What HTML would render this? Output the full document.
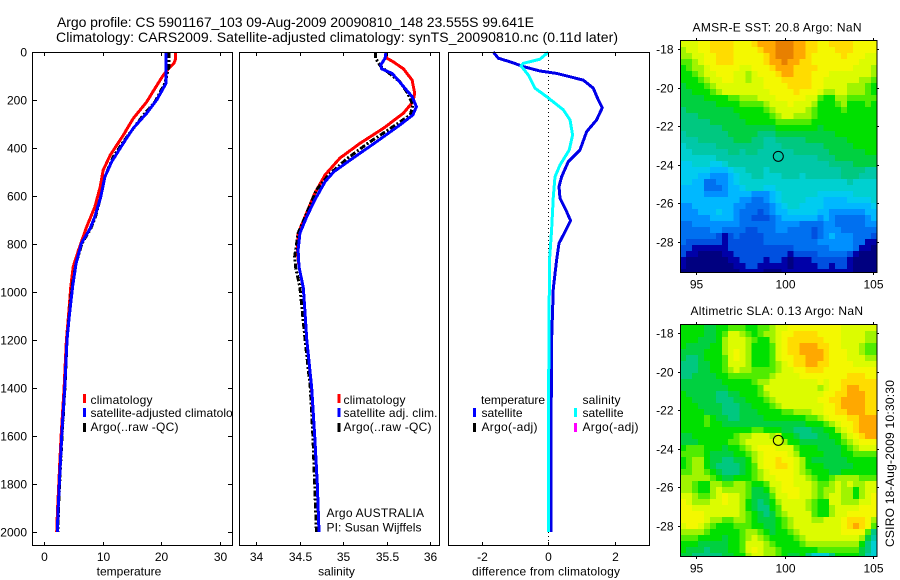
<!DOCTYPE html>
<html lang="en">
<head>
<meta charset="utf-8">
<title>Argo profile</title>
<style>
html,body{margin:0;padding:0;background:#fff;}
svg{display:block;}
text{font-family:"Liberation Sans",sans-serif;font-size:12px;fill:#000;}
.t{font-size:14px;}
</style>
</head>
<body>
<svg id="fig" xmlns="http://www.w3.org/2000/svg" width="900" height="580" viewBox="0 0 900 580">
<defs>
<clipPath id="clipSst"><rect x="680" y="41" width="197" height="232"/></clipPath>
<clipPath id="clipSla"><rect x="680" y="325" width="197" height="232"/></clipPath>
</defs>
<rect x="0" y="0" width="900" height="580" fill="#fff"/>
<text class="t" x="57" y="27" textLength="477">Argo profile: CS 5901167_103 09-Aug-2009 20090810_148 23.555S 99.641E</text>
<text class="t" x="56" y="42" textLength="562">Climatology: CARS2009. Satellite-adjusted climatology: synTS_20090810.nc (0.11d later)</text>

<g id="panelT">
  <g id="marksT"></g>
  <g>
    <rect x="83" y="394" width="3" height="9" fill="#f00"/>
    <text x="90.5" y="404" textLength="62">climatology</text>
    <rect x="83" y="408" width="3" height="9" fill="#00f"/>
    <text x="90.5" y="417" textLength="155">satellite-adjusted climatology</text>
    <rect x="83" y="423" width="3" height="9" fill="#000"/>
    <text x="90.5" y="431" textLength="88">Argo(..raw -QC)</text>
  </g>
</g>
<rect x="233" y="52" width="6" height="494" fill="#fff"/>
<g id="panelS">
  <rect x="239" y="52" width="200" height="493" fill="#fff"/>
  <g id="marksS"></g>
  <g>
    <rect x="337.5" y="394" width="3" height="9" fill="#f00"/>
    <text x="343.5" y="404" textLength="62">climatology</text>
    <rect x="337.5" y="408" width="3" height="9" fill="#00f"/>
    <text x="343.5" y="417" textLength="94">satellite adj. clim.</text>
    <rect x="337.5" y="423" width="3" height="9" fill="#000"/>
    <text x="343.5" y="431" textLength="88">Argo(..raw -QC)</text>
  </g>
  <text x="326.5" y="517" textLength="97.5">Argo AUSTRALIA</text>
  <text x="326.5" y="531.5" textLength="95">PI: Susan Wijffels</text>
</g>
<g id="panelD">
  <g id="marksD"></g>
  <g>
    <text x="481" y="404" textLength="64">temperature</text>
    <rect x="473" y="408" width="3" height="9" fill="#00f"/>
    <text x="481.5" y="417" textLength="41">satellite</text>
    <rect x="473" y="423" width="3" height="9" fill="#000"/>
    <text x="481.5" y="431" textLength="56">Argo(-adj)</text>
    <text x="582.5" y="404" textLength="38">salinity</text>
    <rect x="574" y="408" width="3" height="9" fill="#0ff"/>
    <text x="582.5" y="417" textLength="41">satellite</text>
    <rect x="574" y="423" width="3" height="9" fill="#f0f"/>
    <text x="582.5" y="431" textLength="56">Argo(-adj)</text>
  </g>
</g>
<text x="129" y="575.5" text-anchor="middle">temperature</text>
<text x="336.5" y="575.5" text-anchor="middle">salinity</text>
<text x="546" y="575.5" text-anchor="middle" textLength="148">difference from climatology</text>

<g id="mapSst" clip-path="url(#clipSst)"></g>
<g id="mapSla" clip-path="url(#clipSla)"></g>
<text x="692.5" y="31.5" textLength="169">AMSR-E SST: 20.8 Argo: NaN</text>
<text x="690.5" y="315" textLength="172.5">Altimetric SLA: 0.13 Argo: NaN</text>
<text transform="translate(894,547) rotate(-90)" textLength="167">CSIRO 18-Aug-2009 10:30:30</text>
<g id="axes"></g>
</svg>
<script>
/* ---- profile data ---- */
const depthTicks = [0,200,400,600,800,1000,1200,1400,1600,1800,2000];
const tempTicks = [0,10,20,30];
const salTicks = [34,34.5,35,35.5,36];
const salTickLabels = ['34','34.5','35','35.5','36'];
const diffTicks = [-2,0,2];
const lonTicks = [95,100,105];
const latTicks = [-18,-20,-22,-24,-26,-28];

const tempClimDepth = [0,30,48,70,97,152,208,277,347,430,492,562,645,728,826,895,978,1100,1200,1400,1500,1600,1700,1800,1900,2000];
const tempClimValue = [22.4,22.4,22.1,21.2,20.3,18.9,17.5,15.2,13.5,11.3,10.1,9.6,8.7,7.3,5.9,5.0,4.6,4.2,3.85,3.45,3.2,2.95,2.75,2.55,2.35,2.2];
const tempSatDepth = [0,130,200,255,318,381,457,520,603,686,735,797,880,978,1100,1200,1400,1500,1600,1700,1800,1900,2000];
const tempSatValue = [20.8,20.8,19.2,17.5,15.2,13.5,11.55,10.4,9.7,8.7,7.9,6.4,5.5,4.9,4.35,3.95,3.56,3.3,3.05,2.85,2.65,2.45,2.3];
const tempArgoDepth = [0,60,130,208,270,375,437,520,603,686,735,797,880,978,1100,1200,1400,1500,1600,1700,1800,1900,2000];
const tempArgoValue = [21.3,21.3,20.6,18.9,16.7,13.5,11.8,10.4,9.7,8.8,8.0,6.5,5.5,4.8,4.3,3.95,3.6,3.35,3.1,2.9,2.7,2.5,2.4];

const salClimDepth = [0,26,40,70,117,172,207,255,318,381,442,512,589,686,755,825,895,985,1200,1400,1600,1800,2000];
const salClimValue = [35.49,35.5,35.57,35.69,35.79,35.82,35.8,35.69,35.46,35.19,34.96,34.79,34.67,34.56,34.48,34.47,34.49,34.54,34.58,34.635,34.67,34.7,34.72];
const salSatDepth = [0,26,54,70,89,117,152,186,228,262,304,374,450,499,540,617,686,755,825,895,985,1200,1400,1600,1800,2000];
const salSatValue = [35.49,35.48,35.43,35.44,35.56,35.63,35.71,35.79,35.84,35.8,35.65,35.38,35.08,34.89,34.79,34.67,34.58,34.5,34.48,34.49,34.54,34.58,34.636,34.67,34.7,34.72];
const salArgoDepth = [0,26,60,124,172,220,262,304,381,445,512,575,670,755,853,895,980,1200,1400,1600,1800,2000];
const salArgoValue = [35.37,35.37,35.43,35.65,35.74,35.8,35.77,35.6,35.28,35.04,34.83,34.69,34.58,34.48,34.44,34.45,34.5,34.56,34.62,34.65,34.67,34.69];

const diffTempDepth = [0,26,43,61,79,89,117,151,200,232,283,332,408,457,520,561,609,659,703,749,797,867,985,1200,1400,1700,2000];
const diffTempValue = [-1.65,-1.5,-1.1,-0.75,-0.25,0.25,1.05,1.35,1.5,1.62,1.45,1.15,0.95,0.6,0.4,0.32,0.35,0.53,0.67,0.5,0.32,0.25,0.15,0.1,0.09,0.08,0.08];
const diffSalDepth = [0,30,47,58,96,151,186,241,283,346,408,471,520,603,741,880,985,1200,1400,1700,2000];
const diffSalValue = [0,-0.25,-0.75,-0.82,-0.6,-0.4,-0.05,0.45,0.65,0.73,0.63,0.35,0.2,0.15,0.1,0.03,0.03,0.02,0.01,0,0];

const argoLon = 99.641;
const argoLat = -23.555;

/* ---- map colour levels, north to south ---- */
const sstGrid = [
[14,14,14,15,15,16,16,16,16,15,15,15,16,17,17,17,18,18,18,17,17,16,16,15,15,16,16,16,16,15,15,15,15],
[13,14,14,15,15,16,16,16,16,15,15,15,15,16,17,17,18,18,18,17,17,16,16,15,15,15,16,16,16,15,15,15,15],
[13,13,14,14,15,15,16,16,16,15,15,15,15,15,16,17,18,18,18,17,17,16,15,15,15,15,15,16,15,15,15,14,14],
[12,12,13,14,15,15,16,16,16,15,15,15,15,15,16,17,17,18,17,17,16,16,15,15,15,15,15,15,15,15,14,14,14],
[11,12,13,13,14,15,15,15,15,15,14,14,15,15,15,16,17,17,17,16,16,16,16,15,15,15,15,15,15,14,14,14,13],
[11,11,12,13,14,14,15,15,15,14,14,13,14,15,15,15,16,17,17,16,16,16,15,15,15,14,14,14,14,14,14,14,13],
[11,11,11,12,13,14,14,15,15,14,14,13,14,14,15,15,15,16,16,16,16,16,15,15,14,14,14,14,14,14,13,13,12],
[10,11,11,11,12,13,14,14,14,14,14,14,14,14,15,15,15,15,16,16,16,16,15,15,14,14,14,14,13,13,13,12,11],
[10,10,11,11,11,12,13,14,14,14,14,14,14,14,14,15,15,15,15,16,15,15,15,14,13,13,14,14,13,13,13,12,11],
[10,10,10,10,11,11,11,11,12,12,13,13,13,14,14,14,15,15,15,15,15,14,14,12,11,11,13,13,12,12,12,12,12],
[10,10,10,10,10,10,11,11,11,11,12,12,12,12,13,14,14,14,15,14,14,14,13,11,11,11,12,13,11,11,11,12,11],
[9,10,10,10,10,10,10,10,10,11,11,11,11,11,12,13,14,14,14,14,14,13,12,11,11,11,11,12,11,11,11,11,11],
[9,9,9,10,10,10,10,10,10,10,11,11,11,11,11,12,13,14,14,13,13,13,12,11,11,11,11,11,11,11,11,11,11],
[9,9,9,9,9,10,10,10,10,10,10,11,11,11,11,11,12,12,12,12,12,12,11,11,11,11,11,11,11,11,11,11,11],
[9,9,9,9,9,9,9,10,10,10,10,10,10,10,10,10,11,11,11,11,11,11,11,10,11,11,11,11,11,11,11,11,11],
[8,9,9,9,9,9,9,9,10,10,10,10,10,9,9,9,10,10,10,10,10,10,10,10,10,10,11,11,11,11,11,11,11],
[8,8,8,9,9,9,9,9,9,10,10,10,9,9,8,8,9,9,9,9,9,10,10,10,10,10,10,10,11,11,11,11,11],
[7,8,8,8,8,8,9,9,9,9,9,9,9,9,8,8,8,9,9,9,9,9,9,9,10,10,10,10,10,11,11,11,11],
[7,7,8,8,8,8,8,8,9,9,8,9,9,8,8,8,8,8,8,9,9,9,9,9,9,10,10,10,10,10,10,11,11],
[7,7,7,7,7,7,8,8,8,8,8,8,8,8,8,8,8,8,8,8,8,8,8,9,9,9,10,10,10,10,10,10,10],
[6,6,7,7,7,6,6,7,8,8,8,8,8,8,8,8,8,8,8,8,8,8,8,8,8,9,9,9,9,10,10,10,10],
[6,6,6,6,6,5,5,5,6,7,7,8,8,8,7,8,8,8,8,8,8,8,8,8,8,8,8,9,9,9,9,8,8],
[6,6,6,5,5,4,4,4,5,6,7,7,8,8,7,7,7,8,8,8,7,8,8,8,8,8,8,9,9,9,8,8,8],
[6,6,5,5,3,3,4,4,5,6,7,7,7,7,7,7,7,7,7,7,7,7,7,7,7,7,7,7,8,7,7,7,7],
[5,5,5,5,3,3,3,4,5,5,6,7,7,7,6,6,7,7,7,7,7,7,7,7,7,7,7,7,7,7,7,7,7],
[5,5,5,5,4,4,4,4,5,5,5,5,4,4,4,5,6,7,7,7,7,7,7,6,6,6,6,6,6,7,7,7,7],
[5,5,5,5,5,5,5,5,5,5,4,4,3,3,4,5,6,7,7,7,7,6,6,6,5,5,5,5,6,6,6,6,7],
[4,4,5,5,5,5,5,5,5,4,4,3,3,3,3,4,5,6,7,7,6,6,6,6,5,5,5,5,5,5,5,5,6],
[4,4,4,5,5,5,6,5,5,4,3,3,3,2,3,4,5,5,6,6,6,6,6,5,5,4,4,4,4,4,4,5,5],
[4,4,4,4,4,5,5,5,5,4,3,3,2,2,2,3,4,5,5,5,5,5,5,4,5,4,3,3,3,3,3,4,5],
[3,3,4,4,4,4,4,4,4,4,3,3,3,3,3,3,4,4,4,4,3,3,3,3,4,4,3,3,3,3,3,4,4],
[3,3,3,3,3,4,4,3,3,3,3,2,2,3,3,3,4,4,3,3,3,3,2,3,4,4,4,3,3,3,3,3,3],
[3,3,3,3,3,3,2,1,2,3,2,2,2,2,3,3,3,3,3,3,3,3,2,3,4,5,4,4,4,3,3,3,2],
[3,2,2,2,2,2,2,1,2,2,2,2,2,2,3,3,3,3,3,3,3,3,3,4,4,4,4,4,4,3,3,1,1],
[2,2,1,1,1,1,1,1,2,2,2,2,2,2,2,2,2,2,2,3,3,3,3,3,3,4,4,4,4,3,1,1,0],
[2,1,1,0,0,0,0,1,1,2,2,2,2,2,2,2,2,2,1,2,2,2,2,3,3,3,3,3,2,1,0,0,0],
[1,0,0,0,0,0,0,0,1,1,2,2,2,2,1,2,2,1,0,1,1,1,2,2,2,2,2,2,1,0,0,0,0],
[1,0,0,0,0,0,0,0,0,1,1,2,2,1,1,1,1,1,0,1,1,1,1,2,2,1,2,2,1,0,0,0,0],
[0,0,0,0,0,0,0,0,0,0,1,1,1,1,0,0,0,1,1,1,1,1,1,1,1,1,1,1,1,0,0,0,0]
];
const slaGrid = [
[11,11,11,11,10,10,11,11,12,12,12,11,11,12,12,13,14,14,15,15,15,15,15,15,15,15,15,14,14,14,14,14,14],
[11,11,11,11,10,10,11,12,14,14,13,12,11,12,13,13,14,15,15,16,16,16,16,15,15,15,15,14,14,14,14,13,13],
[11,11,11,10,10,10,11,13,14,14,14,13,12,11,11,13,14,15,16,16,16,16,16,16,15,15,15,14,14,14,14,13,13],
[11,10,10,10,10,11,11,13,14,14,14,13,11,11,11,12,14,15,16,16,17,17,17,16,16,15,15,14,14,14,13,12,12],
[10,10,10,10,11,11,11,13,14,15,14,13,11,11,11,12,14,15,16,16,17,17,17,17,16,15,15,15,14,14,13,12,12],
[10,9,9,10,11,11,11,12,14,15,14,13,11,11,11,12,14,15,15,16,16,17,17,17,16,15,15,15,14,14,14,13,13],
[9,9,9,10,10,11,11,12,14,14,14,13,11,11,11,12,13,14,15,16,16,17,17,16,16,15,15,15,15,14,14,14,14],
[9,9,9,10,10,11,11,12,13,14,13,13,12,12,12,12,13,14,14,15,15,16,16,16,15,15,15,15,15,15,15,15,15],
[9,9,10,10,10,10,11,11,12,12,12,12,12,12,12,13,14,14,14,14,15,15,15,15,15,15,15,15,16,16,16,15,15],
[10,10,10,10,10,10,10,11,11,11,11,11,12,13,13,14,14,14,14,14,14,14,14,15,14,15,15,16,16,16,16,16,16],
[10,10,10,10,10,10,10,10,11,11,11,11,11,12,14,14,14,14,14,14,14,14,14,13,14,15,15,16,17,17,16,16,16],
[11,10,10,10,10,10,9,9,10,10,11,11,11,12,13,14,14,14,14,14,14,14,14,14,15,15,16,16,17,17,17,16,16],
[11,11,10,10,10,10,9,9,9,10,10,11,11,11,12,13,14,14,14,14,14,14,14,15,15,16,16,17,17,17,17,16,16],
[11,11,11,10,10,10,10,9,9,9,10,10,11,11,11,12,13,14,14,14,14,14,14,14,15,15,16,17,17,17,17,16,16],
[11,11,11,11,10,10,10,9,9,9,10,10,10,11,11,11,11,12,12,13,13,13,14,14,15,15,16,16,17,17,17,16,16],
[11,11,11,11,12,11,10,10,9,9,10,10,10,10,11,11,11,11,11,11,11,12,12,13,14,15,15,15,16,16,17,17,17],
[11,11,11,11,12,11,11,10,10,10,10,10,10,10,10,10,10,10,10,10,10,11,11,11,12,13,14,15,15,16,17,17,17],
[11,11,11,11,11,11,11,11,11,11,11,11,12,12,11,11,11,10,10,9,9,9,10,10,11,11,13,14,15,16,17,17,17],
[10,10,11,11,11,11,11,11,11,12,13,13,14,14,14,13,14,11,11,10,9,9,9,10,10,11,11,13,14,15,16,17,17],
[10,10,10,11,11,11,11,11,12,12,13,14,14,14,14,14,14,13,11,11,10,10,10,10,10,10,11,12,13,14,15,15,15],
[11,12,12,12,11,11,11,10,11,11,12,13,14,15,15,15,14,14,14,12,11,11,11,10,10,10,10,11,12,13,14,14,14],
[12,12,12,12,11,10,10,10,10,11,11,12,13,14,15,15,15,15,14,13,11,11,11,11,10,10,10,11,11,12,12,12,12],
[11,12,13,13,11,10,10,9,9,10,10,11,13,14,15,15,16,15,15,14,13,11,10,10,10,10,10,10,11,11,11,11,11],
[11,12,13,13,11,10,9,9,9,9,10,11,12,14,15,15,16,16,15,14,13,11,11,11,10,10,10,10,10,11,11,11,11],
[12,12,13,13,12,11,10,9,9,9,10,11,12,13,14,15,15,15,15,14,13,12,11,11,11,10,10,11,11,11,11,11,11],
[13,13,13,13,13,12,11,10,10,11,11,11,12,13,14,14,15,15,15,14,14,13,12,11,11,12,13,13,13,13,12,12,12],
[13,13,12,11,11,13,13,12,12,13,13,12,11,11,12,14,14,15,15,14,14,14,13,12,12,13,14,13,14,13,13,14,14],
[13,13,12,11,11,13,14,13,13,13,13,12,10,10,11,13,14,15,15,15,14,14,13,12,13,13,14,13,13,11,13,14,14],
[14,14,13,12,12,13,14,15,14,14,13,12,10,10,10,12,14,14,15,15,14,14,13,12,13,14,14,13,13,11,13,14,15],
[15,14,13,13,13,14,14,15,14,14,13,11,10,9,10,11,13,14,14,14,14,13,12,11,11,14,14,13,13,13,14,14,15],
[15,15,14,14,14,14,14,14,14,14,13,11,10,9,9,11,12,14,14,14,14,13,12,11,11,13,14,14,14,14,15,15,15],
[15,15,15,15,14,14,14,14,14,14,13,12,11,10,9,10,12,13,14,14,14,14,12,11,11,13,14,14,15,15,15,15,15],
[15,15,15,15,14,13,13,12,12,13,13,12,11,10,10,10,11,12,13,14,14,14,13,13,14,14,14,15,16,16,16,15,13],
[14,15,15,14,13,12,11,11,11,12,12,12,11,11,10,10,11,12,13,14,14,14,14,14,14,14,14,15,16,17,16,15,12],
[13,13,13,13,12,11,11,11,11,11,12,13,13,12,11,10,11,11,12,13,14,14,14,14,14,14,14,15,15,15,15,12,9],
[12,12,12,11,11,11,11,10,11,11,12,13,14,13,12,11,11,11,11,12,13,14,14,14,14,14,14,14,14,14,13,10,8],
[11,11,11,10,10,10,10,10,11,11,12,14,14,14,13,12,11,11,11,11,12,13,13,13,13,13,13,13,13,13,11,9,7],
[11,10,10,10,9,10,10,10,11,11,12,14,15,14,13,13,12,11,11,11,11,11,11,12,12,12,12,12,12,12,10,9,7],
[10,10,9,9,9,9,9,10,10,11,11,13,14,14,13,13,12,11,10,10,11,9,7,7,7,9,11,11,11,11,10,8,7]
];
const levelColors = ['#000080','#0000a8','#0050e0','#0070f0','#0090ff','#00b8ff','#00ccf0','#00d0d0','#00c8a8','#00c880','#00d040','#00e000','#50ec00','#a0f400','#dcfc00','#f4f800','#ffdc00','#ffa800','#e88000'];

const NS = 'http://www.w3.org/2000/svg';
const PLOT_TOP = 52, PLOT_BOTTOM = 545;
function yDepth(d){ return 52 + d * 0.24; }
function xTemp(v){ return 43.76 + v * 5.882; }
function xSal(v){ return 239 + (v - 33.8) * 86.96; }
function xDiff(v){ return 548.3 + v * 33.33; }
function xLon(v){ return 680 + (v - 94.1) * 17.74; }
function ySst(v){ return 49.3 + (-18 - v) * 19.27; }
function ySla(v){ return 333.3 + (-18 - v) * 19.27; }

function node(tag, parent){
  const el = document.createElementNS(NS, tag);
  parent.appendChild(el);
  return el;
}
function line(parent, x1, y1, x2, y2, name){
  const el = node('line', parent);
  el.setAttribute('x1', x1);
  el.setAttribute('y1', y1);
  el.setAttribute('x2', x2);
  el.setAttribute('y2', y2);
  el.setAttribute('stroke', '#000');
  el.setAttribute('stroke-width', 1);
  el.setAttribute('shape-rendering', 'crispEdges');
  
  
  return el;
}
function label(parent, x, y, str, anchor, name){
  const el = node('text', parent);
  el.setAttribute('x', x);
  el.setAttribute('y', y);
  el.setAttribute('text-anchor', anchor);
  el.textContent = str;
  
  
  return el;
}
function profile(parent, depths, values, xFn, color, width, dash, name){
  const el = node('polyline', parent);
  el.setAttribute('points', depths.map((d, i) => xFn(values[i]).toFixed(1) + ',' + yDepth(d).toFixed(1)).join(' '));
  el.setAttribute('fill', 'none');
  el.setAttribute('stroke', color);
  el.setAttribute('stroke-width', width);
  el.setAttribute('stroke-linejoin', 'round');
  el.setAttribute('shape-rendering', 'crispEdges');
  if (dash) el.setAttribute('stroke-dasharray', dash);
  
  
  return el;
}
function box(parent, x, y, w, h, name){
  const el = node('rect', parent);
  el.setAttribute('x', x);
  el.setAttribute('y', y);
  el.setAttribute('width', w);
  el.setAttribute('height', h);
  el.setAttribute('fill', 'none');
  el.setAttribute('stroke', '#000');
  el.setAttribute('stroke-width', 1);
  el.setAttribute('shape-rendering', 'crispEdges');
  
  
  return el;
}
function heatmap(parent, grid, y0){
  const cw = 197 / 33, ch = 6;
  grid.forEach((row, r) => row.forEach((lvl, c) => {
    const el = node('rect', parent);
    el.setAttribute('x', (680 + c * cw).toFixed(2));
    el.setAttribute('y', y0 + r * ch);
    el.setAttribute('width', (cw + 0.3).toFixed(2));
    el.setAttribute('height', ch + 0.3);
    el.setAttribute('fill', levelColors[lvl]);
    el.setAttribute('shape-rendering', 'crispEdges');
    
    
  }));
}

const DASH = '6 2 2 2';
const marksT = document.getElementById('marksT');
profile(marksT, tempClimDepth, tempClimValue, xTemp, '#f00', 3, null, 'temperature-climatology-line');
profile(marksT, tempArgoDepth, tempArgoValue, xTemp, '#000', 3, DASH, 'temperature-argo-line');
profile(marksT, tempSatDepth, tempSatValue, xTemp, '#00f', 3, null, 'temperature-satellite-line');
const marksS = document.getElementById('marksS');
profile(marksS, salClimDepth, salClimValue, xSal, '#f00', 3, null, 'salinity-climatology-line');
profile(marksS, salArgoDepth, salArgoValue, xSal, '#000', 3, DASH, 'salinity-argo-line');
profile(marksS, salSatDepth, salSatValue, xSal, '#00f', 3, null, 'salinity-satellite-line');
const marksD = document.getElementById('marksD');
const zero = line(marksD, xDiff(0), PLOT_TOP, xDiff(0), PLOT_BOTTOM, 'zero-reference-line');
zero.setAttribute('stroke-dasharray', '1 3');
profile(marksD, diffTempDepth, diffTempValue, xDiff, '#0000e8', 3, null, 'difference-temperature-line');
profile(marksD, diffSalDepth, diffSalValue, xDiff, '#00ffff', 3, null, 'difference-salinity-line');

heatmap(document.getElementById('mapSst'), sstGrid, 41);
heatmap(document.getElementById('mapSla'), slaGrid, 325);

const ax = document.getElementById('axes');
box(ax, 32.5, 52.5, 200, 493, 'temperature-axes-box');
box(ax, 239.5, 52.5, 200, 493, 'salinity-axes-box');
box(ax, 448.5, 52.5, 201, 493, 'difference-axes-box');

depthTicks.forEach(d => {
  const y = Math.round(yDepth(d)) + 0.5;
  line(ax, 32.5, y, 37, y, 'depth-tick-left');
  line(ax, 228, y, 232.5, y, 'depth-tick-right');
  label(ax, 27, y + 4, String(d), 'end', 'depth-tick-label');
});
function xAxis(ticks, labels, xFn, name){
  ticks.forEach((t, i) => {
    const x = Math.round(xFn(t)) + 0.5;
    line(ax, x, 52.5, x, 56, name + '-tick-top');
    line(ax, x, 542, x, 545.5, name + '-tick-bottom');
    label(ax, x, 561, labels[i], 'middle', name + '-tick-label');
  });
}
xAxis(tempTicks, tempTicks.map(String), xTemp, 'temperature');
xAxis(salTicks, salTickLabels, xSal, 'salinity');
xAxis(diffTicks, diffTicks.map(String), xDiff, 'difference');

function mapAxes(top, bottom, yFn, name){
  box(ax, 680.5, top + 0.5, 196.5, bottom - top, name + '-map-box');
  lonTicks.forEach(t => {
    const x = Math.round(xLon(t)) + 0.5;
    line(ax, x, top - 2, x, top, name + '-lon-tick-top');
    line(ax, x, bottom, x, bottom + 3, name + '-lon-tick-bottom');
    label(ax, x, bottom + 16.5, String(t), 'middle', name + '-lon-label');
  });
  latTicks.forEach(t => {
    const y = Math.round(yFn(t)) + 0.5;
    line(ax, 678, y, 680, y, name + '-lat-tick-left');
    line(ax, 877, y, 879, y, name + '-lat-tick-right');
    label(ax, 673.5, y + 4, String(t), 'end', name + '-lat-label');
  });
  const c = node('ellipse', ax);
  c.setAttribute('cx', xLon(argoLon));
  c.setAttribute('cy', yFn(argoLat));
  c.setAttribute('rx', 5);
  c.setAttribute('ry', 5);
  c.setAttribute('fill', 'none');
  c.setAttribute('stroke', '#000');
  c.setAttribute('stroke-width', 1);
  
  
}
mapAxes(40, 272, ySst, 'sst');
mapAxes(324, 556, ySla, 'sla');
</script>
</body>
</html>
